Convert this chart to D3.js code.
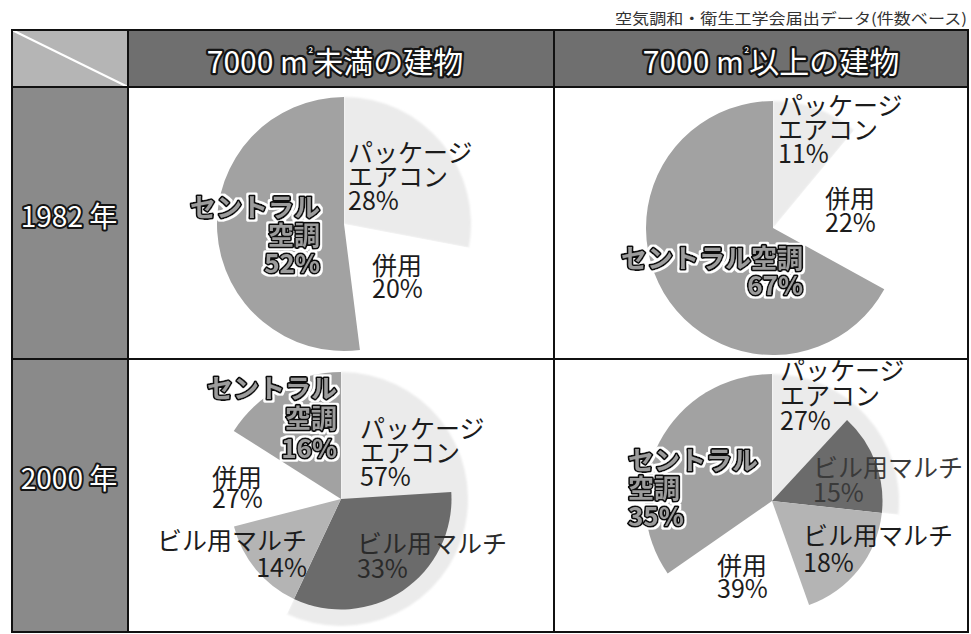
<!DOCTYPE html>
<html><head><meta charset="utf-8">
<script src="https://cdn.jsdelivr.net/npm/d3@7"></script>
<style>html,body{margin:0;padding:0;background:#fff;}</style>
</head><body>
<script>
// ---------- data ----------
const sourceNote = "空気調和・衛生工学会届出データ(件数ベース)";
const columnLabels = ["7000 m²未満の建物", "7000 m²以上の建物"];
const rowLabels = ["1982 年", "2000 年"];
const categories = ["パッケージエアコン", "併用", "セントラル空調"];
const subCategory = "ビル用マルチ";
// cell order: [1982/<7000, 1982/>=7000, 2000/<7000, 2000/>=7000]
const packageValues = [28, 11, 57, 27];
const combinedValues = [20, 22, 27, 39];
const centralValues = [52, 67, 16, 35];
const multiInPackage = [0, 0, 33, 15];
const multiInCombined = [0, 0, 14, 18];

// ---------- layout ----------
const W = 971, H = 634;
const FONT = "'Noto Sans CJK JP','Noto Sans',sans-serif";
const colX = [12, 128, 554, 968];
const rowY = [30, 87, 359, 632];
const centers = [[344, 224], [773, 228], [341, 499], [772, 501]];
const R = 127, multiR = 0.87 * R;
const colors = {pkg: "#ebebeb", combined: "#ffffff", central: "#a2a2a2", multiPkg: "#6b6b6b", multiComb: "#b4b4b4"};

const labelLayout = [
  [ {k:"pkg", x:348, y:162, lh:24, a:"start", wrap:true},
    {k:"comb", x:372, y:275, lh:23, a:"start"},
    {k:"central", x:320, y:217, lh:28, a:"end", wrap:true} ],
  [ {k:"pkg", x:778, y:115, lh:24, a:"start", wrap:true},
    {k:"comb", x:825, y:208, lh:24, a:"start"},
    {k:"central", x:803, y:268, lh:27, a:"end", wrap:false} ],
  [ {k:"central", x:337, y:398, lh:30, a:"end", wrap:true},
    {k:"pkg", x:360, y:438, lh:24, a:"start", wrap:true},
    {k:"comb", x:212, y:487, lh:21, a:"start"},
    {k:"multiComb", x:307, y:550, lh:27, a:"end"},
    {k:"multiPkg", x:357, y:553, lh:25, a:"start", color:"#2a2a2a"} ],
  [ {k:"pkg", x:780, y:380, lh:25, a:"start", wrap:true},
    {k:"central", x:628, y:470, lh:28, a:"start", wrap:true},
    {k:"multiPkg", x:813, y:477, lh:25, a:"start", color:"#3a3a3a"},
    {k:"multiComb", x:803, y:545, lh:27, a:"start"},
    {k:"comb", x:717, y:575, lh:23, a:"start"} ]
];

const svg = d3.select("body").append("svg").attr("width", W).attr("height", H)
  .style("font-family", FONT);
const defs = svg.append("defs");
defs.append("filter").attr("id", "soft").attr("x", "-10%").attr("y", "-10%").attr("width", "120%").attr("height", "120%")
  .append("feGaussianBlur").attr("stdDeviation", 1.3);
const halo = defs.append("filter").attr("id", "halo").attr("x", "-10%").attr("y", "-20%").attr("width", "120%").attr("height", "140%");
halo.append("feMorphology").attr("in", "SourceAlpha").attr("operator", "dilate").attr("radius", 2.2).attr("result", "d");
halo.append("feFlood").attr("flood-color", "#fff");
halo.append("feComposite").attr("in2", "d").attr("operator", "in").attr("result", "w");
const hm = halo.append("feMerge");
hm.append("feMergeNode").attr("in", "w");
hm.append("feMergeNode").attr("in", "SourceGraphic");

// source note
svg.append("text").attr("x", 967).attr("y", 24).attr("text-anchor", "end")
  .attr("font-size", 15).attr("fill", "#333").attr("textLength", 352).attr("lengthAdjust", "spacingAndGlyphs")
  .text(sourceNote);

// backgrounds
svg.append("rect").attr("x", colX[0]).attr("y", rowY[0]).attr("width", colX[1]-colX[0]).attr("height", rowY[1]-rowY[0]).attr("fill", "#b5b5b5");
svg.append("line").attr("x1", colX[0]).attr("y1", rowY[0]).attr("x2", colX[1]).attr("y2", rowY[1]).attr("stroke", "#fff").attr("stroke-width", 2);
svg.append("rect").attr("x", colX[1]).attr("y", rowY[0]).attr("width", colX[3]-colX[1]).attr("height", rowY[1]-rowY[0]).attr("fill", "#6f6f6f");
svg.append("rect").attr("x", colX[0]).attr("y", rowY[1]).attr("width", colX[1]-colX[0]).attr("height", rowY[3]-rowY[1]).attr("fill", "#8a8a8a");

function outlined(sel, fill, stroke, sw) {
  sel.attr("fill", fill).attr("stroke", stroke).attr("stroke-width", sw)
     .attr("stroke-linejoin", "round").attr("paint-order", "stroke");
}

// column headers (superscript ² drawn smaller)
const headerX = [335, 771];
columnLabels.forEach((t, i) => {
  const parts = t.split("²");
  const tx = svg.append("text").attr("x", headerX[i]).attr("y", 73).attr("text-anchor", "middle")
    .attr("font-size", 30).call(outlined, "#fff", "#151515", 4.5);
  tx.append("tspan").text(parts[0]);
  tx.append("tspan").attr("font-size", 13).attr("dy", -14).text("²");
  tx.append("tspan").attr("dy", 14).text(parts[1]);
});
// row headers
const rowTextY = [227, 489];
rowLabels.forEach((t, i) => {
  svg.append("text").attr("x", 69).attr("y", rowTextY[i]).attr("text-anchor", "middle")
    .attr("font-size", 28).text(t).call(outlined, "#fff", "#151515", 4);
});

// pies
const pie = d3.pie().sort(null).value(d => d.v);
const arcOuter = d3.arc().innerRadius(0).outerRadius(R);
const arcMulti = d3.arc().innerRadius(0).outerRadius(multiR);

centers.forEach((c, i) => {
  const g = svg.append("g").attr("transform", `translate(${c[0]},${c[1]})`);
  const outer = [
    {k:"pkg", v: packageValues[i]},
    {k:"combined", v: combinedValues[i]},
    {k:"central", v: centralValues[i]}
  ];
  g.selectAll("path.o").data(pie(outer)).join("path").attr("class", "o")
    .attr("d", arcOuter).attr("fill", d => colors[d.data.k])
    .attr("filter", d => d.data.k === "pkg" ? "url(#soft)" : null);
  const detail = [
    {k:"pkgOnly", v: packageValues[i] - multiInPackage[i]},
    {k:"multiPkg", v: multiInPackage[i]},
    {k:"multiComb", v: multiInCombined[i]},
    {k:"combOnly", v: combinedValues[i] - multiInCombined[i]},
    {k:"central", v: centralValues[i]}
  ];
  g.selectAll("path.m").data(pie(detail).filter(d => (d.data.k === "multiPkg" || d.data.k === "multiComb") && d.data.v > 0))
    .join("path").attr("class", "m").attr("d", arcMulti).attr("fill", d => colors[d.data.k]);
});

// labels
const labelText = {
  pkg: (i, wrap) => wrap ? ["パッケージ", "エアコン", packageValues[i] + "%"] : [categories[0], packageValues[i] + "%"],
  comb: (i) => [categories[1], combinedValues[i] + "%"],
  central: (i, wrap) => wrap ? ["セントラル", "空調", centralValues[i] + "%"] : [categories[2], centralValues[i] + "%"],
  multiPkg: (i) => [subCategory, multiInPackage[i] + "%"],
  multiComb: (i) => [subCategory, multiInCombined[i] + "%"]
};

labelLayout.forEach((cell, i) => {
  cell.forEach(L => {
    const lines = labelText[L.k](i, L.wrap);
    const t = svg.append("text").attr("x", L.x).attr("y", L.y).attr("text-anchor", L.a);
    if (L.k === "central") {
      t.attr("font-size", 26).attr("font-weight", 700).attr("filter", "url(#halo)")
        .call(outlined, "#9c9c9c", "#111", 3.5);
    } else {
      t.attr("font-size", 25).attr("fill", L.color || "#1c1c1c");
    }
    lines.forEach((ln, j) => {
      t.append("tspan").attr("x", L.x).attr("dy", j === 0 ? 0 : L.lh).text(ln);
    });
  });
});

// grid lines
const gridColor = "#111";
svg.append("rect").attr("x", colX[0]).attr("y", rowY[0]).attr("width", colX[3]-colX[0]).attr("height", rowY[3]-rowY[0])
  .attr("fill", "none").attr("stroke", gridColor).attr("stroke-width", 2);
[colX[1], colX[2]].forEach(x => svg.append("line").attr("x1", x).attr("x2", x).attr("y1", rowY[0]).attr("y2", rowY[3]).attr("stroke", gridColor).attr("stroke-width", 2));
[rowY[1], rowY[2]].forEach(y => svg.append("line").attr("x1", colX[0]).attr("x2", colX[3]).attr("y1", y).attr("y2", y).attr("stroke", gridColor).attr("stroke-width", 2));
</script>
</body></html>
